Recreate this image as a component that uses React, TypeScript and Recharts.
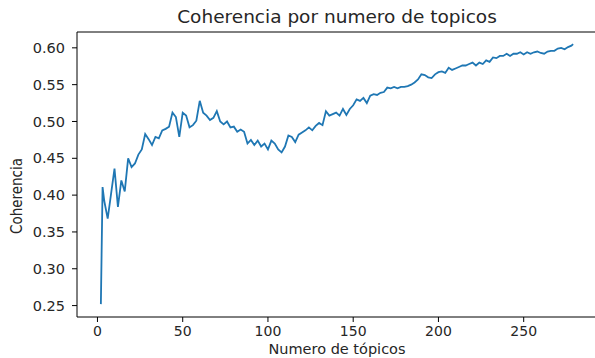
import { LineChart, Line, XAxis, YAxis, ReferenceLine } from "recharts";

// number of topics tried (x axis)
const topics = [
  2, 3, 4, 6, 8, 10, 12, 14, 16, 18, 20, 22, 24, 26, 28, 30, 32, 34, 36, 38,
  40, 42, 44, 46, 48, 50, 52, 54, 56, 58, 60, 62, 64, 66, 68, 70, 72, 74, 76,
  78, 80, 82, 84, 86, 88, 90, 92, 94, 96, 98, 100, 102, 104, 106, 108, 110,
  112, 114, 116, 118, 120, 122, 124, 126, 128, 130, 132, 134, 136, 138, 140,
  142, 144, 146, 148, 150, 152, 154, 156, 158, 160, 162, 164, 166, 168, 170,
  172, 174, 176, 178, 180, 182, 184, 186, 188, 190, 192, 194, 196, 198, 200,
  202, 204, 206, 208, 210, 212, 214, 216, 218, 220, 222, 224, 226, 228, 230,
  232, 234, 236, 238, 240, 242, 244, 246, 248, 250, 252, 254, 256, 258, 260,
  262, 264, 266, 268, 270, 272, 274, 276, 278, 279,
];

// coherence score per topic count
const coherence = [
  0.252, 0.411, 0.392, 0.368, 0.402, 0.436, 0.384, 0.42, 0.405, 0.45, 0.438,
  0.443, 0.455, 0.462, 0.483, 0.476, 0.468, 0.479, 0.477, 0.488, 0.49, 0.493,
  0.512, 0.506, 0.479, 0.512, 0.508, 0.492, 0.495, 0.501, 0.528, 0.512, 0.508,
  0.502, 0.505, 0.514, 0.5, 0.496, 0.5, 0.492, 0.493, 0.486, 0.489, 0.486,
  0.47, 0.475, 0.468, 0.474, 0.466, 0.47, 0.462, 0.474, 0.47, 0.462, 0.458,
  0.466, 0.481, 0.479, 0.472, 0.482, 0.485, 0.488, 0.492, 0.488, 0.494, 0.498,
  0.495, 0.514, 0.508, 0.51, 0.512, 0.508, 0.517, 0.509, 0.517, 0.522, 0.53,
  0.528, 0.532, 0.525, 0.535, 0.537, 0.536, 0.539, 0.54, 0.546, 0.545, 0.547,
  0.545, 0.547, 0.547, 0.548, 0.55, 0.553, 0.557, 0.564, 0.563, 0.56, 0.559,
  0.564, 0.567, 0.568, 0.566, 0.573, 0.57, 0.572, 0.574, 0.576, 0.576, 0.578,
  0.58, 0.576, 0.58, 0.578, 0.583, 0.581, 0.587, 0.586, 0.589, 0.589, 0.592,
  0.589, 0.592, 0.592, 0.594, 0.591, 0.594, 0.592, 0.594, 0.595, 0.593, 0.592,
  0.595, 0.596, 0.596, 0.599, 0.6, 0.598, 0.601, 0.603, 0.605,
];

const xTicks = [0, 50, 100, 150, 200, 250];
const yTicks = [0.25, 0.3, 0.35, 0.4, 0.45, 0.5, 0.55, 0.6];

const data = topics.map((t, i) => ({ topic: t, coherence: coherence[i] }));

const font = "DejaVu Sans";
const textColor = "#262626";
const yMax = 0.6215;

export default function App() {
  return (
    <div
      style={{
        position: "absolute",
        left: 0,
        top: 0,
        width: 595,
        height: 358,
        overflow: "hidden",
        background: "#fff",
      }}
    >
      <LineChart
        width={600}
        height={358}
        data={data}
        margin={{ top: 32, right: 3, left: 0, bottom: 0 }}
      >
        <XAxis
          dataKey="topic"
          type="number"
          domain={[-12, 293]}
          ticks={xTicks}
          allowDataOverflow
          height={41}
          stroke="#000"
          tickSize={5}
          tickMargin={4}
          tick={{ fill: textColor, fontSize: 14, fontFamily: font }}
          label={{
            value: "Numero de tópicos",
            position: "insideBottom",
            offset: 4,
            fill: textColor,
            fontSize: 14.5,
            fontFamily: font,
          }}
        />
        <YAxis
          type="number"
          domain={[0.2345, yMax]}
          ticks={yTicks}
          allowDataOverflow
          width={77}
          stroke="#000"
          tickSize={5}
          tickMargin={7}
          tickFormatter={(v: number) => v.toFixed(2)}
          tick={{ fill: textColor, fontSize: 14.5, fontFamily: font }}
        />
        <ReferenceLine y={yMax} stroke="#000" strokeWidth={1} />
        <text
          x={337}
          y={23}
          textAnchor="middle"
          fill={textColor}
          fontSize={18.5}
          fontFamily={font}
        >
          Coherencia por numero de topicos
        </text>
        <text
          x={22}
          y={196}
          transform="rotate(-90 22 196)"
          textAnchor="middle"
          fill={textColor}
          fontSize={15}
          fontFamily="DejaVu Sans Condensed, DejaVu Sans"
          style={{ fontStretch: "condensed" }}
        >
          Coherencia
        </text>
        <Line
          type="linear"
          dataKey="coherence"
          stroke="#1f77b4"
          strokeWidth={1.8}
          dot={false}
          isAnimationActive={false}
        />
      </LineChart>
    </div>
  );
}
